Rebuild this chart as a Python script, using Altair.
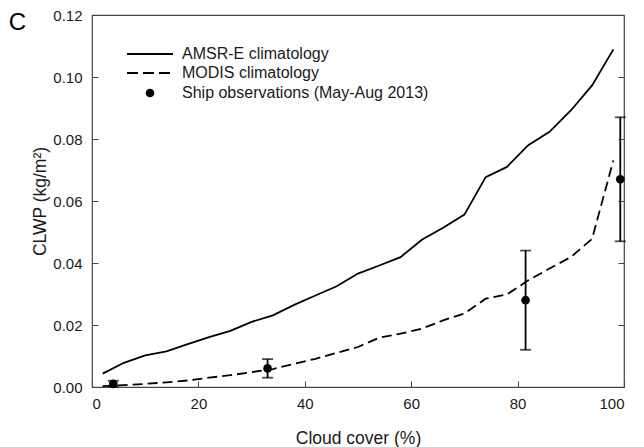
import altair as alt
import pandas as pd

# ---------------- data ----------------
cloud_cover = [2, 6, 10, 14, 18, 22, 26, 30, 34, 38, 42, 46, 50,
               54, 58, 62, 66, 70, 74, 78, 82, 86, 90, 94, 98]
amsr_clwp = [0.0043, 0.0078, 0.0102, 0.0115, 0.0138, 0.0161, 0.0181, 0.0210,
             0.0231, 0.0265, 0.0295, 0.0325, 0.0366, 0.0392, 0.0419, 0.0475,
             0.0514, 0.0556, 0.0677, 0.0710, 0.0780, 0.0823, 0.0892, 0.0973,
             0.1089]
modis_clwp = [0.0003, 0.0006, 0.0010, 0.0015, 0.0021, 0.0030, 0.0038, 0.0048,
              0.0058, 0.0075, 0.0091, 0.0110, 0.0129, 0.0159, 0.0172, 0.0188,
              0.0215, 0.0237, 0.0285, 0.0299, 0.0344, 0.0382, 0.0419, 0.0478,
              0.0731]
ship_cover = [4.0, 33.0, 81.5, 99.3]
ship_clwp = [0.001, 0.006, 0.028, 0.067]
ship_low = [0.0002, 0.003, 0.012, 0.047]
ship_high = [0.002, 0.009, 0.044, 0.087]

legend_labels = ["AMSR-E climatology", "MODIS climatology",
                 "Ship observations (May-Aug 2013)"]
x_tick_values = [0, 20, 40, 60, 80, 100]
y_tick_values = [0.00, 0.02, 0.04, 0.06, 0.08, 0.10, 0.12]
panel_letter = "C"

FONT = "Liberation Sans"
INK = "#1a1a1a"
TICK = "#444444"
LW = 1.8
W, H = 532, 372
TICK_LEN = 6
# grid lines used as inward ticks: y-grids start at their own axis,
# x-grids start at the top edge, so their dash is pushed to the bottom end
Y_INWARD = [TICK_LEN, 2000]
X_INWARD = [0, H - TICK_LEN, TICK_LEN, 2000]

clim = pd.DataFrame({"cover": cloud_cover, "amsr": amsr_clwp, "modis": modis_clwp})
ship = pd.DataFrame({"cover": ship_cover, "clwp": ship_clwp,
                     "low": ship_low, "high": ship_high})

xs = alt.Scale(domain=[0, 100], nice=False, zero=False)
ys = alt.Scale(domain=[0, 0.12], nice=False)

x_main = alt.Axis(values=x_tick_values, ticks=False, domain=False,
                  grid=True, gridDash=X_INWARD, gridColor=TICK, gridWidth=1,
                  gridOpacity=1,
                  labelPadding=9, labelFontSize=15, title="Cloud cover (%)",
                  titleFontSize=17.5, titleY=56, titleBaseline="alphabetic")
y_main = alt.Axis(values=y_tick_values, format=".2f", ticks=False, domain=False,
                  grid=True, gridDash=Y_INWARD, gridColor=TICK, gridWidth=1,
                  gridOpacity=1,
                  labelPadding=10, labelFontSize=15,
                  title="CLWP (kg/m²)", titleFontSize=17.5, titleX=-47,
                  titleBaseline="alphabetic")
y_right = alt.Axis(values=y_tick_values[1:-1], orient="right", ticks=False,
                   labels=False, domain=False, title=None,
                   grid=True, gridDash=Y_INWARD, gridColor=TICK, gridWidth=1,
                   gridOpacity=1)

amsr_line = alt.Chart(clim).mark_line(color="black", strokeWidth=LW).encode(
    x=alt.X("cover:Q", scale=xs, axis=x_main),
    y=alt.Y("amsr:Q", scale=ys, axis=y_main),
)
modis_line = alt.Chart(clim).mark_line(color="black", strokeWidth=LW,
                                       strokeDash=[10, 5]).encode(
    x=alt.X("cover:Q", scale=xs, axis=None),
    y=alt.Y("modis:Q", scale=ys, axis=None),
)
bars = alt.Chart(ship).mark_rule(color="black", strokeWidth=LW).encode(
    x=alt.X("cover:Q", scale=xs, axis=None),
    y=alt.Y("low:Q", scale=ys, axis=y_right),
    y2="high:Q",
)
cap_hi = alt.Chart(ship).mark_tick(orient="horizontal", size=11, thickness=LW,
                                   color="black").encode(
    x=alt.X("cover:Q", scale=xs, axis=None),
    y=alt.Y("high:Q", scale=ys, axis=None),
)
cap_lo = alt.Chart(ship).mark_tick(orient="horizontal", size=11, thickness=LW,
                                   color="black").encode(
    x=alt.X("cover:Q", scale=xs, axis=None),
    y=alt.Y("low:Q", scale=ys, axis=None),
)
points = alt.Chart(ship).mark_circle(size=75, color="black", opacity=1).encode(
    x=alt.X("cover:Q", scale=xs, axis=None),
    y=alt.Y("clwp:Q", scale=ys, axis=None),
)

one = pd.DataFrame({"k": [0]})
leg_solid = alt.Chart(one).mark_rule(color="black", strokeWidth=LW).encode(
    x=alt.value(35), x2=alt.value(81), y=alt.value(39))
leg_dash = alt.Chart(one).mark_rule(color="black", strokeWidth=LW,
                                    strokeDash=[11, 5]).encode(
    x=alt.value(35), x2=alt.value(81), y=alt.value(58))
leg_dot = alt.Chart(one).mark_circle(size=75, color="black", opacity=1).encode(
    x=alt.value(58), y=alt.value(78))


def leg_text(label, ypix):
    return alt.Chart(one).mark_text(align="left", baseline="middle", fontSize=16,
                                    font=FONT, color=INK).encode(
        x=alt.value(90), y=alt.value(ypix), text=alt.value(label))


letter = alt.Chart(one).mark_text(align="right", baseline="alphabetic", fontSize=24,
                                  font=FONT, color="black").encode(
    x=alt.value(-66), y=alt.value(15), text=alt.value(panel_letter))

chart = alt.layer(
    amsr_line, modis_line, bars, cap_hi, cap_lo, points,
    leg_solid, leg_dash, leg_dot,
    leg_text(legend_labels[0], 39), leg_text(legend_labels[1], 58),
    leg_text(legend_labels[2], 78), letter,
).resolve_axis(x="independent", y="independent").properties(
    width=W, height=H,
    autosize=alt.AutoSizeParams(type="none"),
    padding={"left": 84, "top": 7, "right": 12, "bottom": 60},
).configure_view(
    stroke="#444", strokeWidth=1.2
).configure_axis(
    labelFont=FONT, titleFont=FONT, labelColor=INK, titleColor=INK,
    titleFontWeight="normal"
)

chart.save("out.html", embed_options={"renderer": "svg", "actions": False})
